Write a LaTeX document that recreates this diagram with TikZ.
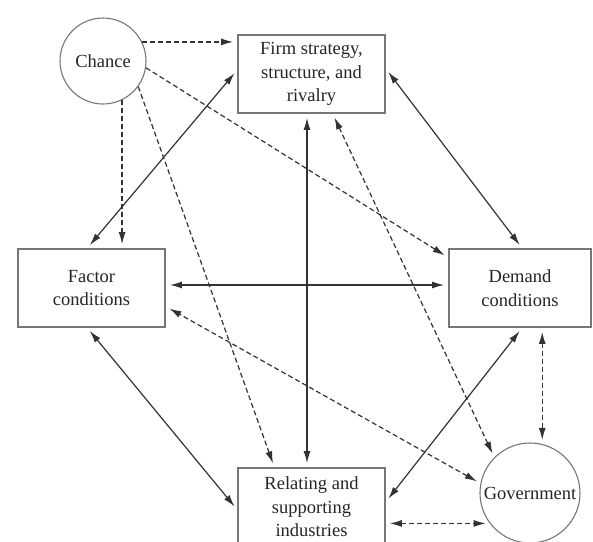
\documentclass[tikz,border=0pt]{standalone}
\usepackage{fontspec}
\setmainfont{Liberation Serif}
\usepackage{tikz}
\usetikzlibrary{arrows.meta,calc,positioning}
\definecolor{linegray}{HTML}{333333}
\definecolor{boxgray}{HTML}{777777}

\begin{document}
\begin{tikzpicture}[x=1pt,y=-1pt,
    box/.style={draw=boxgray,line width=1.8pt,rectangle,minimum width=147pt,
      minimum height=78pt,align=center,inner sep=0pt,
      font=\fontsize{18.5}{23.5}\selectfont,text=black!85},
    ring/.style={draw=boxgray,line width=1.1pt,circle,inner sep=0pt,
      font=\fontsize{18.5}{23.5}\selectfont,text=black!85},
    link/.style={draw=linegray,line width=1.2pt,
      {Latex[length=12pt,width=7pt]}-{Latex[length=12pt,width=7pt]},
      shorten <=4pt,shorten >=4pt},
    push/.style={draw=linegray,line width=1.2pt,dash pattern=on 5pt off 3pt,
      -{Latex[length=12pt,width=7pt]},shorten >=4pt},
    pushboth/.style={push,{Latex[length=12pt,width=7pt]}-{Latex[length=12pt,width=7pt]},
      shorten <=4pt}]
    \clip (0,0) rectangle (593,541);
    \fill[white] (0,0) rectangle (593,541);

    \node[ring,minimum size=86pt] (chance) at (103,61) {Chance};
    \node[box] (firm) at (311.5,74) {Firm strategy,\\structure, and\\rivalry};
    \node[box] (factor) at (91.5,288) {Factor\\conditions};
    \node[box,minimum width=142pt] (demand) at (520,288) {Demand\\conditions};
    \node[box] (relating) at (311.5,507) {Relating and\\supporting\\industries};
    \node[ring,minimum size=100pt] (gov) at (530,493) {Government};

    % chance
    \draw[push] (chance.26) -- (chance.26 -| firm.west);
    \draw[push] (chance.-9) -- (demand.157);
    \draw[push] (chance.-64) -- (chance.-64 |- factor.north);
    \draw[push] (chance.-36) -- (relating.133);

    % diamond of solid links
    \draw[link] (firm.177) -- (factor.96);
    \draw[link] (firm.4) -- (demand.87);
    \draw[link] ([xshift=-4.5pt]firm.south) -- ([xshift=-4.5pt]relating.north);
    \draw[link] ([yshift=3pt]factor.east) -- ([yshift=3pt]demand.west);
    \draw[link] (factor.264) -- (relating.182);
    \draw[link] (demand.273) -- (relating.4);

    % government
    \draw[pushboth] (gov.135) -- (firm.-62);
    \draw[pushboth] (gov.169) -- (factor.-14);
    \draw[pushboth] (gov.76 |- demand.south) -- (gov.76);
    \draw[pushboth] (gov.217 -| relating.east) -- (gov.217);
\end{tikzpicture}
\end{document}
